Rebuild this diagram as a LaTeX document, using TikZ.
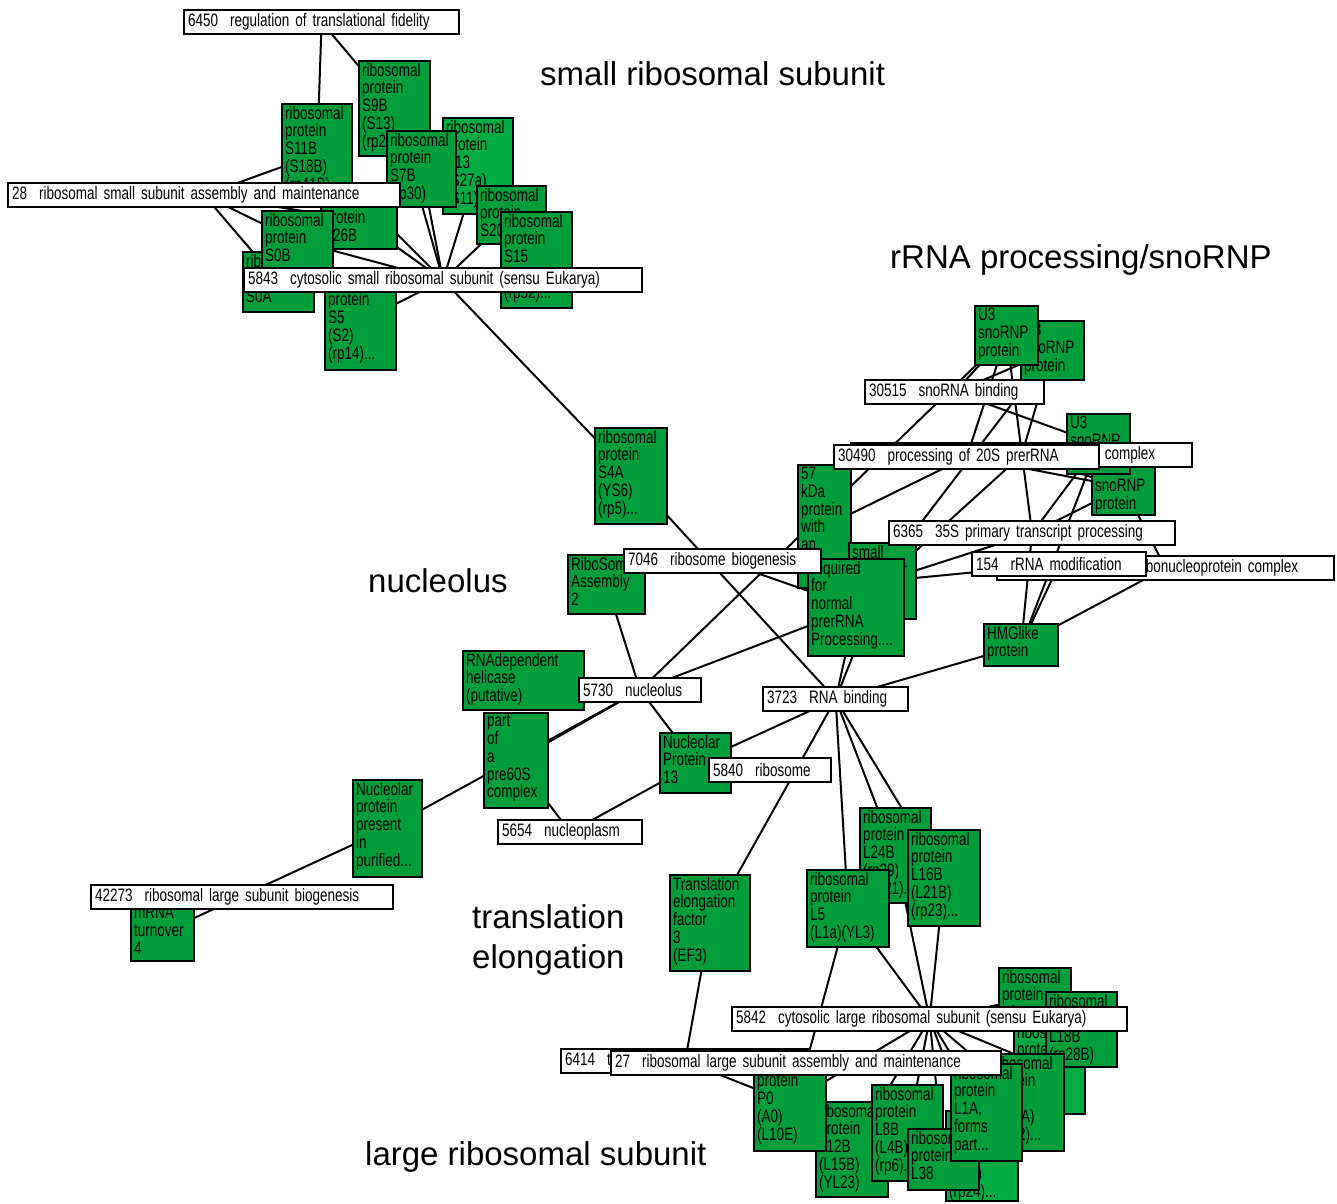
\documentclass[tikz,border=0pt]{standalone}
\usepackage{fontspec}
\setmainfont{Liberation Sans}
\newfontfamily\narrowfont[FakeStretch=0.75]{Liberation Sans}
\usepackage{xcolor}
\usetikzlibrary{backgrounds}
\definecolor{gcol}{RGB}{0,158,58}
\definecolor{gcoll}{RGB}{0,172,66}
\newcommand{\gfont}{\narrowfont\fontsize{18}{17.8}\selectfont\fontdimen2\font=3.6pt\fontdimen3\font=0pt\fontdimen4\font=0pt\relax}
\newcommand{\gtext}[3]{\parbox[t][#2pt][t]{#1pt}{\raggedright\hyphenpenalty=10000 #3}}

\begin{document}
\begin{tikzpicture}[x=1pt, y=-1pt,
  gene/.style={draw, line width=2.2pt, fill=gcol, anchor=north west, inner xsep=3pt, inner ysep=2pt, font=\gfont},
  term/.style={draw, line width=2.2pt, fill=white, anchor=north west, inner xsep=4pt, inner ysep=0pt, minimum height=24pt, align=left, font=\gfont},
  link/.style={line width=2pt},
  bigtext/.style={anchor=base west, inner sep=0pt, font=\fontsize{33}{40}\selectfont}]
\useasboundingbox (0,0) rectangle (1337,1203);

% group titles
\node[bigtext] (lsmall) at (540,85) {small ribosomal subunit};
\node[bigtext] (lrrna) at (890,268) {rRNA processing/snoRNP};
\node[bigtext] (lnucl) at (368,592) {nucleolus};
\node[bigtext] (ltrans) at (472,928) {translation};
\node[bigtext] (lelong) at (472,968) {elongation};
\node[bigtext] (llarge) at (365,1165) {large ribosomal subunit};

% small subunit cluster
\node[gene] (s9b) at (358,60) {\gtext{65}{91}{ribosomal\\protein\\S9B\\(S13)\\(rp21)...}};
\node[gene, fill=gcoll] (s13) at (442,117) {\gtext{64}{92}{ribosomal\\protein\\S13\\(S27a)\\(S11)...}};
\node[gene] (s11b) at (281,103) {\gtext{64}{96}{ribosomal\\protein\\S11B\\(S18B)\\(rp41B)...}};
\node[gene] (s7b) at (386,130) {\gtext{63}{72}{ribosomal\\protein\\S7B\\(rp30)}};
\node[gene] (s20) at (476,185) {\gtext{63}{54}{ribosomal\\protein\\S20}};
\node[gene] (s15) at (500,211) {\gtext{65}{92}{ribosomal\\protein\\S15\\(S13)\\(rp52)...}};
\node[gene] (s26b) at (320,190) {\gtext{70}{54}{ribosomal\\protein\\S26B}};
\node[term, text width=267pt] (t6450) at (183,9) {6450\ \ regulation of translational fidelity};
\node[term, text width=384pt] (t28) at (7,182) {28\ \ ribosomal small subunit assembly and maintenance};
\node[gene] (s0a) at (242,251) {\gtext{65}{56}{ribosomal\\protein\\S0A}};
\node[gene] (s0b) at (261,210) {\gtext{65}{56}{ribosomal\\protein\\S0B}};
\node[gene] (s5) at (324,272) {\gtext{65}{93}{ribosomal\\protein\\S5\\(S2)\\(rp14)...}};
\node[term, text width=390pt] (t5843) at (243,267) {5843\ \ cytosolic small ribosomal subunit (sensu Eukarya)};
\node[gene] (s4a) at (594,427) {\gtext{66}{92}{ribosomal\\protein\\S4A\\(YS6)\\(rp5)...}};

% rRNA processing cluster
\node[gene] (u3b) at (1020,320) {\gtext{57}{55}{U3\\snoRNP\\protein}};
\node[gene] (u3a) at (974,305) {\gtext{57}{55}{U3\\snoRNP\\protein}};
\node[term, text width=171pt] (t30515) at (864,379) {30515\ \ snoRNA binding};
\node[gene] (snornp) at (1091,458) {\gtext{57}{52}{U3\\snoRNP\\protein}};
\node[gene] (u3c) at (1066,413) {\gtext{57}{56}{U3\\snoRNP\\protein}};
\node[term, text width=333pt] (t5732) at (850,442) {5732\ \ small nucleolar ribonucleoprotein complex};
\node[gene] (kda) at (797,464) {\gtext{47}{119}{57\\kDa\\protein\\with\\an\\...}};
\node[term, text width=257pt] (t30490) at (833,444) {30490\ \ processing of 20S prerRNA};
\node[gene] (small) at (848,542) {\gtext{61}{72}{small\\nucleolar\\RNA}};
\node[term, text width=278pt] (t6365) at (888,520) {6365\ \ 35S primary transcript processing};
\node[gene] (req) at (807,558) {\gtext{90}{93}{required\\for\\normal\\prerRNA\\Processing....}};
\node[gene] (rsa2) at (567,554) {\gtext{71}{55}{RiboSome\\Assembly\\2}};
\node[term, text width=189pt] (t7046) at (623,548) {7046\ \ ribosome biogenesis};
\node[term, text width=329pt] (tcomplex) at (996,555) {30532\ \ small nuclear ribonucleoprotein complex};
\node[term, text width=166pt] (t154) at (971,551) {154\ \ rRNA modification};
\node[gene] (hmg) at (983,623) {\gtext{68}{38}{HMGlike\\protein}};

% nucleolus cluster
\node[gene] (rnadh) at (462,650) {\gtext{115}{55}{RNAdependent\\helicase\\(putative)}};
\node[term, text width=114pt] (t5730) at (578,677) {5730\ \ nucleolus};
\node[gene] (pre60) at (483,712) {\gtext{58}{91}{part\\of\\a\\pre60S\\complex}};
\node[gene] (nop13) at (659,732) {\gtext{65}{56}{Nucleolar\\Protein\\13}};
\node[term, text width=114pt] (t5840) at (708,757) {5840\ \ ribosome};
\node[term, text width=137pt] (t3723) at (762,686) {3723\ \ RNA binding};
\node[term, text width=136pt] (t5654) at (497,819) {5654\ \ nucleoplasm};
\node[gene] (nopp) at (352,779) {\gtext{63}{93}{Nucleolar\\protein\\present\\in\\purified...}};
\node[gene] (mtr4) at (130,903) {\gtext{57}{53}{mRNA\\turnover\\4}};
\node[term, text width=294pt] (t42273) at (90,884) {42273\ \ ribosomal large subunit biogenesis};

% large subunit cluster
\node[gene] (tef3) at (669,874) {\gtext{74}{92}{Translation\\elongation\\factor\\3\\(EF3)}};
\node[gene] (l24b) at (859,807) {\gtext{65}{91}{ribosomal\\protein\\L24B\\(rp29)\\(YL21)...}};
\node[gene] (l16b) at (907,829) {\gtext{66}{92}{ribosomal\\protein\\L16B\\(L21B)\\(rp23)...}};
\node[gene] (l5) at (806,869) {\gtext{76}{73}{ribosomal\\protein\\L5\\(L1a)(YL3)}};
\node[gene] (lx4) at (998,967) {\gtext{66}{54}{ribosomal\\protein\\L31}};
\node[gene, fill=gcoll] (lx3) at (1013,1022) {\gtext{65}{87}{ribosomal\\protein\\L17A\\(YL17)\\(rp33)...}};
\node[gene] (l18b) at (1045,991) {\gtext{65}{71}{ribosomal\\protein\\L18B\\(rp28B)}};
\node[term, text width=387pt] (t5842) at (731,1006) {5842\ \ cytosolic large ribosomal subunit (sensu Eukarya)};
\node[gene] (lx2) at (990,1053) {\gtext{67}{93}{ribosomal\\protein\\L13\\(L14A)\\(rp22)...}};
\node[gene, fill=gcoll] (lx1) at (945,1110) {\gtext{66}{86}{ribosomal\\protein\\L9A\\(L8A)\\(rp24)...}};
\node[gene] (l12b) at (815,1101) {\gtext{66}{91}{ribosomal\\protein\\L12B\\(L15B)\\(YL23)}};
\node[gene] (l8b) at (871,1084) {\gtext{65}{92}{ribosomal\\protein\\L8B\\(L4B)\\(rp6)...}};
\node[gene] (l38) at (907,1128) {\gtext{65}{57}{ribosomal\\protein\\L38}};
\node[gene] (l1a) at (950,1063) {\gtext{65}{93}{ribosomal\\protein\\L1A,\\forms\\part...}};
\node[gene] (p0) at (753,1053) {\gtext{66}{93}{ribosomal\\protein\\P0\\(A0)\\(L10E)}};
\node[term, text width=240pt] (t6414) at (560,1048) {6414\ \ translational elongation};
\node[term, text width=382pt] (t27) at (610,1050) {27\ \ ribosomal large subunit assembly and maintenance};

% connectors
\begin{scope}[on background layer]
\foreach \a/\b in {t6450/s11b, t6450/s9b, t28/s11b, t28/s0a, t28/s0b, t28/s26b,
    t5843/s0a, t5843/s0b, t5843/s26b, t5843/s7b, t5843/s9b, t5843/s13, t5843/s20,
    t5843/s15, t5843/s5, t5843/s11b, t5843/s4a, s4a/t3723,
    u3a/t5730, u3a/t30515, u3b/t30515, u3c/t30515, u3a/t30490, u3a/t6365,
    u3b/t5732, u3b/req, u3c/t6365, u3c/hmg, snornp/t30490, snornp/t6365,
    snornp/tcomplex, snornp/t5732, small/t5732, kda/t30490, small/t6365,
    small/t154, hmg/t154, hmg/t6365, hmg/tcomplex, hmg/t3723, req/t7046,
    req/t5730, req/t3723, small/t3723,
    rsa2/t5730, rnadh/t5730, pre60/t5730, nopp/t5730, nop13/t5730,
    pre60/t5654, nop13/t5654, nop13/t3723, nop13/t5840, mtr4/nopp,
    tef3/t3723, tef3/t6414,
    l5/t3723, l24b/t3723, l16b/t3723, l5/t5842, l24b/t5842, l16b/t5842,
    l5/t27, p0/t5842, p0/t6414, t5842/l12b, t5842/l8b, t5842/l38, t5842/lx1,
    t5842/l1a, t5842/lx2, t5842/lx3, t5842/lx4, t5842/l18b}
  \draw[link] (\a.center) -- (\b.center);
\end{scope}
\end{tikzpicture}
\end{document}
